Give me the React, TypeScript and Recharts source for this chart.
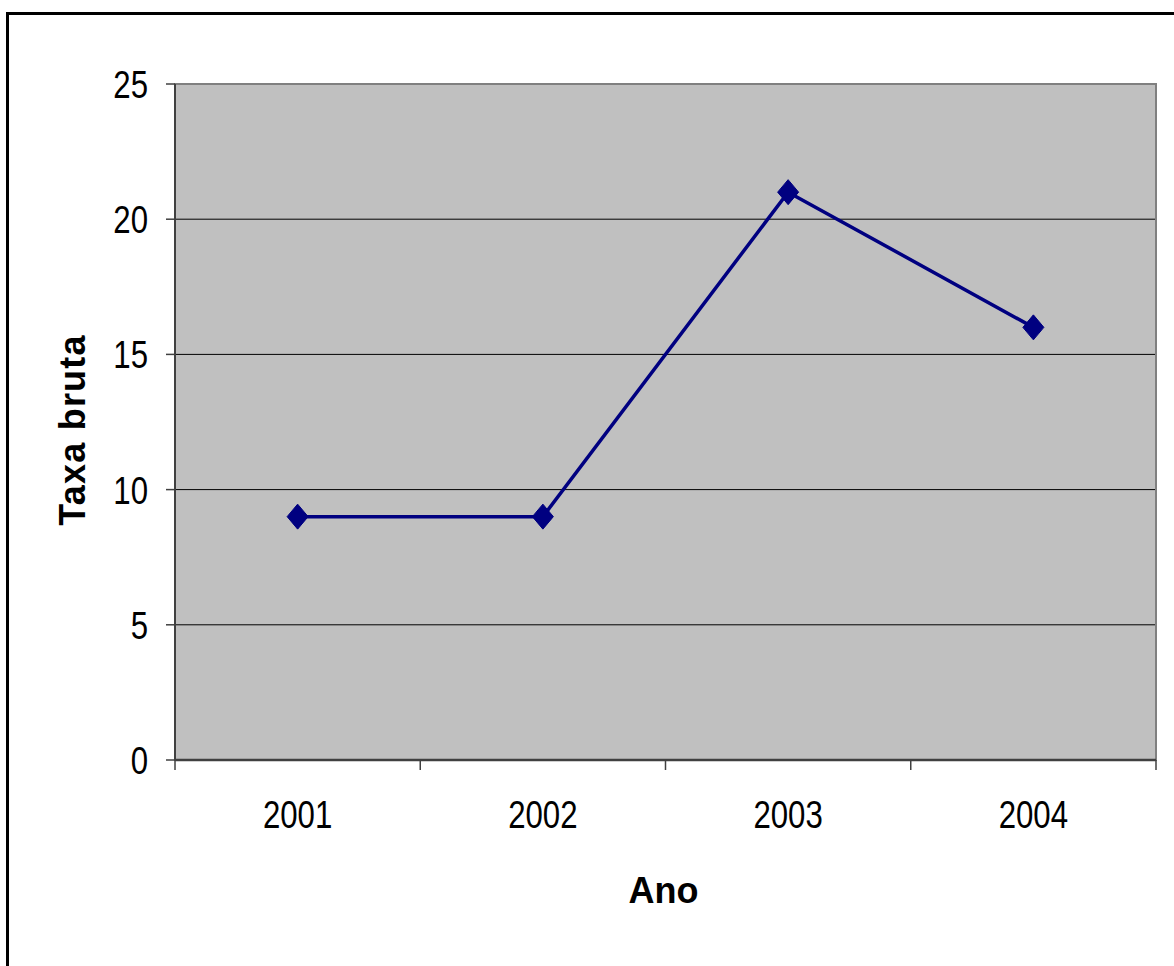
import React from 'react';
import { LineChart, Line, XAxis, YAxis, CartesianGrid, ReferenceArea } from 'recharts';

const years = ['2001', '2002', '2003', '2004'];
const taxaBruta = [9, 9, 21, 16];
const yTicks = [0, 5, 10, 15, 20, 25];

const data = years.map((ano, i) => ({ ano, taxa: taxaBruta[i] }));

const FONT = '"Liberation Sans", Arial, sans-serif';
const SQUEEZE = 0.8;

function XTick(props: any) {
  const { x, y, payload, index, width, visibleTicksCount } = props;
  const count = visibleTicksCount || years.length;
  const half = width ? width / count / 2 : 0;
  return (
    <g>
      <line x1={x - half} x2={x - half} y1={y} y2={y + 10} stroke="#404040" strokeWidth={1.5} />
      {index === count - 1 && (
        <line x1={x + half} x2={x + half} y1={y} y2={y + 10} stroke="#404040" strokeWidth={1.5} />
      )}
      <text
        transform={`translate(${x}, ${y + 68}) scale(${SQUEEZE}, 1)`}
        x={0}
        y={0}
        textAnchor="middle"
        fontFamily={FONT}
        fontSize={39}
        fill="#000"
      >
        {payload.value}
      </text>
    </g>
  );
}

function YTick(props: any) {
  const { x, y, payload } = props;
  return (
    <text
      transform={`translate(${x}, ${y + 14}) scale(${SQUEEZE}, 1)`}
      x={0}
      y={0}
      textAnchor="end"
      fontFamily={FONT}
      fontSize={39}
      fill="#000"
    >
      {payload.value}
    </text>
  );
}

function YLabel(props: any) {
  const vb = props.viewBox || { x: 0, y: 0, width: 0, height: 0 };
  const cx = vb.x + 85;
  const cy = vb.y + vb.height / 2 + 8;
  return (
    <text
      x={cx}
      y={cy}
      transform={`rotate(-90, ${cx}, ${cy})`}
      textAnchor="middle"
      fontFamily={FONT}
      fontWeight="bold"
      fontSize={36}
      letterSpacing={1.2}
      fill="#000"
    >
      Taxa bruta
    </text>
  );
}

function XLabel(props: any) {
  const vb = props.viewBox || { x: 0, y: 0, width: 0, height: 0 };
  const cx = vb.x + vb.width / 2 - 2;
  return (
    <text x={cx} y={vb.y + 143} textAnchor="middle" fontFamily={FONT} fontWeight="bold" fontSize={36} fill="#000">
      Ano
    </text>
  );
}

function Diamond(props: any) {
  const { cx, cy } = props;
  if (cx == null || cy == null) return null;
  return (
    <path
      d={`M${cx},${cy - 12.5} L${cx + 10.5},${cy} L${cx},${cy + 12.5} L${cx - 10.5},${cy} Z`}
      fill="#000080"
      stroke="#000080"
      strokeWidth={1}
    />
  );
}

export default function App() {
  return (
    <div
      style={{
        position: 'fixed',
        left: 0,
        top: 0,
        width: 1174,
        height: 966,
        overflow: 'hidden',
        background: '#fff',
      }}
    >
      <div
        style={{
          position: 'absolute',
          left: 6,
          top: 12,
          width: 1250,
          height: 1050,
          border: '3px solid #000',
        }}
      />
      <div style={{ position: 'absolute', left: 0, top: 0 }}>
        <LineChart width={1174} height={966} data={data} margin={{ top: 84, right: 18, bottom: 0, left: 0 }}>
          <CartesianGrid fill="#C0C0C0" stroke="#000" strokeWidth={1} vertical={false} />
          <ReferenceArea y1={0} y2={25} fill="none" stroke="#808080" strokeWidth={2} ifOverflow="visible" />
          <XAxis
            dataKey="ano"
            scale="band"
            height={206}
            tickSize={0}
            tickMargin={0}
            tickLine={false}
            axisLine={{ stroke: '#404040', strokeWidth: 2.5 }}
            tick={<XTick />}
            interval={0}
            label={<XLabel />}
          />
          <YAxis
            width={175}
            domain={[0, 25]}
            ticks={yTicks}
            interval={0}
            tickSize={9}
            tickMargin={18}
            tickLine={{ stroke: '#404040', strokeWidth: 1.5 }}
            axisLine={{ stroke: '#404040', strokeWidth: 2 }}
            tick={<YTick />}
            label={<YLabel />}
          />
          <Line
            type="linear"
            dataKey="taxa"
            stroke="#000080"
            strokeWidth={3.5}
            dot={<Diamond />}
            activeDot={false}
            isAnimationActive={false}
          />
        </LineChart>
      </div>
    </div>
  );
}
